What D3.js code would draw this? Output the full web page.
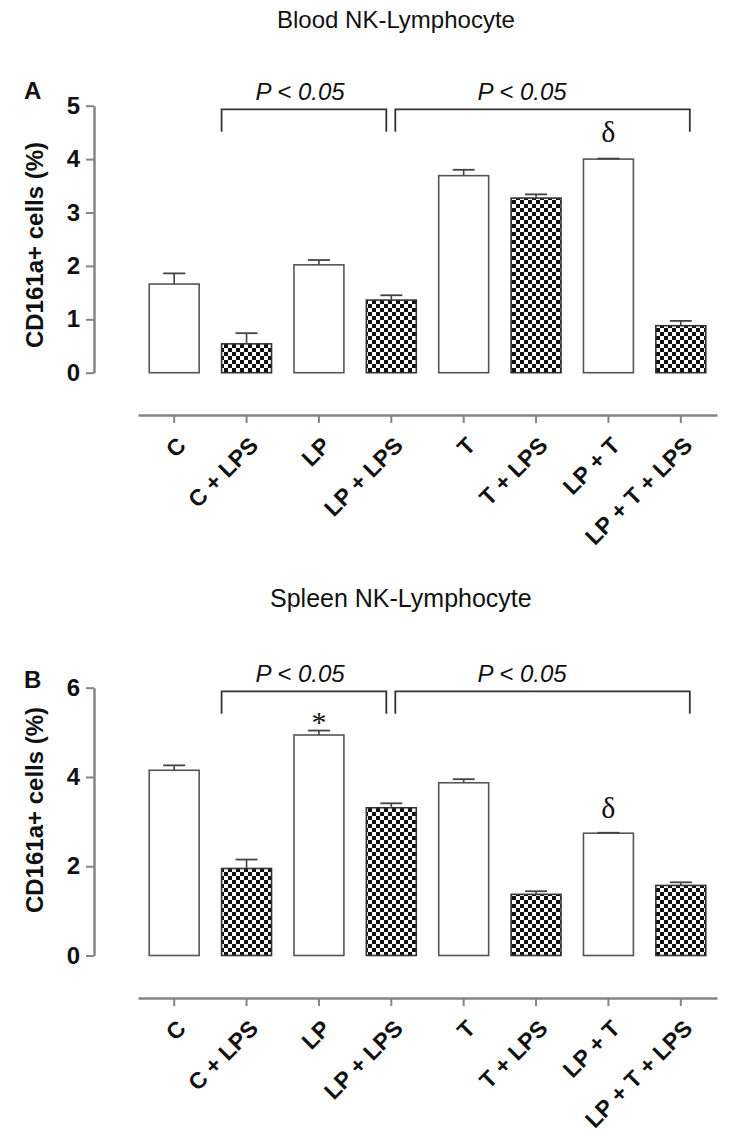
<!DOCTYPE html>
<html>
<head>
<meta charset="utf-8">
<script src="https://cdn.jsdelivr.net/npm/d3@7"></script>
<style>
body { margin: 0; background: #fff; }
svg { display: block; }
</style>
</head>
<body>
<svg id="fig" width="730" height="1140"></svg>
<script>
// groups and values
var groups = ['C', 'C + LPS', 'LP', 'LP + LPS', 'T', 'T + LPS', 'LP + T', 'LP + T + LPS'];
var withLps = [false, true, false, true, false, true, false, true];
var bloodMean = [1.66, 0.54, 2.02, 1.36, 3.69, 3.27, 4.00, 0.88];
var bloodSem = [0.20, 0.20, 0.09, 0.09, 0.11, 0.07, 0.01, 0.09];
var spleenMean = [4.15, 1.95, 4.94, 3.31, 3.87, 1.37, 2.74, 1.57];
var spleenSem = [0.11, 0.20, 0.10, 0.10, 0.08, 0.07, 0.01, 0.07];
var bloodTicks = [0, 1, 2, 3, 4, 5];
var spleenTicks = [0, 2, 4, 6];
var pText = 'P < 0.05';

var sans = '"Liberation Sans", Arial, sans-serif';
var serif = '"Liberation Serif", "Times New Roman", serif';
var axisColor = '#858585';

var svg = d3.select('#fig');

var defs = svg.append('defs');
var pat = defs.append('pattern')
    .attr('id', 'checker')
    .attr('patternUnits', 'userSpaceOnUse')
    .attr('width', 8)
    .attr('height', 8);
pat.append('rect').attr('width', 8).attr('height', 8).attr('fill', '#fff');
pat.append('rect').attr('width', 4).attr('height', 4).attr('fill', '#111');
pat.append('rect').attr('x', 4).attr('y', 4).attr('width', 4).attr('height', 4).attr('fill', '#111');

var xScale = d3.scaleBand()
    .domain(groups)
    .range([138, 717])
    .paddingInner(0.31)
    .paddingOuter(0.155);

var panels = [
    {title: 'Blood NK-Lymphocyte', titleSize: 24, titleX: 277, titleY: 28,
     letter: 'A', letterY: 99, top: 105.7, zero: 372.7, max: 5, ticks: bloodTicks,
     mean: bloodMean, sem: bloodSem, axisY: 415, labelY: 245,
     marks: [{g: 'LP + T', sym: '\u03b4', size: 30, dy: -17}]},
    {title: 'Spleen NK-Lymphocyte', titleSize: 25, titleX: 270, titleY: 607,
     letter: 'B', letterY: 688, top: 687.7, zero: 955.5, max: 6, ticks: spleenTicks,
     mean: spleenMean, sem: spleenSem, axisY: 998, labelY: 810,
     marks: [{g: 'LP', sym: '*', size: 30, dy: 1}, {g: 'LP + T', sym: '\u03b4', size: 30, dy: -15}]}
];

panels.forEach(function(p) {
    var yScale = d3.scaleLinear().domain([0, p.max]).range([p.zero, p.top]);
    var chart = svg.append('g');

    chart.append('text')
        .attr('x', p.titleX)
        .attr('y', p.titleY)
        .style('font-family', sans)
        .style('font-size', p.titleSize + 'px')
        .attr('fill', '#111')
        .text(p.title);

    chart.append('text')
        .attr('x', 24)
        .attr('y', p.letterY)
        .style('font-family', sans)
        .style('font-size', '24px')
        .style('font-weight', 'bold')
        .attr('fill', '#111')
        .text(p.letter);

    chart.append('text')
        .attr('transform', 'translate(43,' + p.labelY + ') rotate(-90)')
        .attr('text-anchor', 'middle')
        .style('font-family', sans)
        .style('font-size', '24px')
        .style('font-weight', 'bold')
        .attr('fill', '#111')
        .text('CD161a+ cells (%)');

    // y axis
    var yAxis = chart.append('g')
        .attr('transform', 'translate(94,0)')
        .call(d3.axisLeft(yScale).tickValues(p.ticks).tickFormat(d3.format('d'))
            .tickSize(8).tickPadding(6).tickSizeOuter(0));
    yAxis.select('.domain').attr('stroke', axisColor).attr('stroke-width', 2.5);
    yAxis.selectAll('.tick line').attr('stroke', axisColor).attr('stroke-width', 2);
    yAxis.selectAll('.tick text')
        .attr('fill', '#111')
        .style('font-family', sans)
        .style('font-size', '24px')
        .style('font-weight', 'bold');

    // x axis
    var xAxis = chart.append('g')
        .attr('transform', 'translate(0,' + p.axisY + ')')
        .call(d3.axisBottom(xScale).tickSize(8).tickSizeOuter(0));
    xAxis.select('.domain').attr('stroke', axisColor).attr('stroke-width', 2.5);
    xAxis.selectAll('.tick line').attr('stroke', axisColor).attr('stroke-width', 2);
    xAxis.selectAll('.tick text')
        .attr('x', 0)
        .attr('y', 0)
        .attr('dy', 0)
        .attr('transform', 'translate(13,32) rotate(-45)')
        .style('text-anchor', 'end')
        .attr('fill', '#111')
        .style('font-family', sans)
        .style('font-size', '23px')
        .style('font-weight', 'bold');

    // bars
    chart.append('g').selectAll('rect')
        .data(groups)
        .enter()
        .append('rect')
        .attr('x', function(d) { return xScale(d); })
        .attr('y', function(d, i) { return yScale(p.mean[i]); })
        .attr('width', xScale.bandwidth())
        .attr('height', function(d, i) { return yScale(0) - yScale(p.mean[i]); })
        .attr('fill', function(d, i) { return withLps[i] ? 'url(#checker)' : '#fff'; })
        .attr('stroke', function(d, i) { return withLps[i] ? '#333' : '#555'; })
        .attr('stroke-width', 1.6);

    // error bars (upper whisker only)
    var err = chart.append('g').selectAll('g')
        .data(groups)
        .enter()
        .append('g')
        .attr('transform', function(d) { return 'translate(' + (xScale(d) + xScale.bandwidth() / 2) + ',0)'; });
    err.append('line')
        .attr('x1', 0).attr('x2', 0)
        .attr('y1', function(d, i) { return yScale(p.mean[i]); })
        .attr('y2', function(d, i) { return yScale(p.mean[i] + p.sem[i]); })
        .attr('stroke', '#444')
        .attr('stroke-width', 1.6);
    err.append('line')
        .attr('x1', -11).attr('x2', 11)
        .attr('y1', function(d, i) { return yScale(p.mean[i] + p.sem[i]); })
        .attr('y2', function(d, i) { return yScale(p.mean[i] + p.sem[i]); })
        .attr('stroke', '#444')
        .attr('stroke-width', 1.8);

    // significance brackets
    var mid = function(g) { return xScale(g) + xScale.bandwidth() / 2; };
    var brackets = [
        {x1: xScale('C + LPS'), x2: mid('LP + LPS') - 5, tx: 300},
        {x1: mid('LP + LPS') + 4, x2: mid('LP + T + LPS') + 9, tx: 522}
    ];
    var bTop = p.top + 3.6, bBottom = p.top + 26;
    brackets.forEach(function(b) {
        chart.append('path')
            .attr('d', 'M' + b.x1 + ',' + bBottom + 'V' + bTop + 'H' + b.x2 + 'V' + bBottom)
            .attr('fill', 'none')
            .attr('stroke', '#333')
            .attr('stroke-width', 1.8);
        chart.append('text')
            .attr('x', b.tx)
            .attr('y', p.top - 5.5)
            .attr('text-anchor', 'middle')
            .style('font-family', sans)
            .style('font-size', '24px')
            .style('font-style', 'italic')
            .attr('fill', '#111')
            .text(pText);
    });

    // symbols above bars
    p.marks.forEach(function(m) {
        var i = groups.indexOf(m.g);
        chart.append('text')
            .attr('x', mid(m.g))
            .attr('y', yScale(p.mean[i] + p.sem[i]) + m.dy)
            .attr('text-anchor', 'middle')
            .style('font-family', serif)
            .style('font-size', m.size + 'px')
            .attr('fill', '#111')
            .text(m.sym);
    });
});
</script>
</body>
</html>
